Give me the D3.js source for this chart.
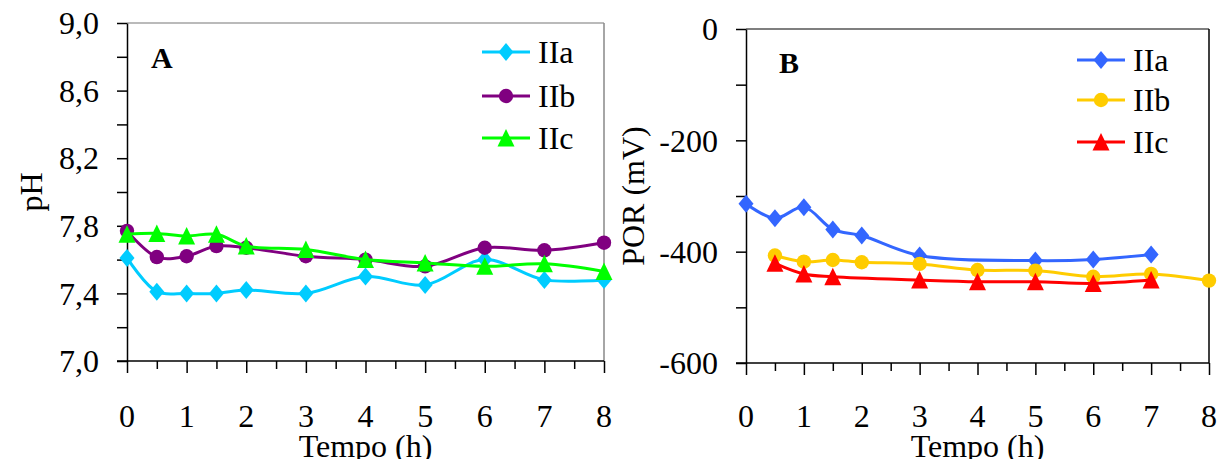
<!DOCTYPE html>
<html><head><meta charset="utf-8">
<script src="https://cdnjs.cloudflare.com/ajax/libs/d3/7.8.5/d3.min.js"></script>
<style>
html,body{margin:0;padding:0;background:#fff;}
svg{display:block;}
text{font-family:"Liberation Serif","Times New Roman","DejaVu Serif",serif;}
</style></head>
<body><svg id="c" width="1217" height="459"></svg>
<script>
// ---- data ----
const times = [0, 0.5, 1, 1.5, 2, 3, 4, 5, 6, 7, 8];
const xTickLabels = [0, 1, 2, 3, 4, 5, 6, 7, 8];
const seriesNames = ["IIa", "IIb", "IIc"];
// Panel A: pH
const phIIa = [7.61, 7.41, 7.40, 7.40, 7.42, 7.40, 7.50, 7.45, 7.60, 7.48, 7.48];
const phIIb = [7.77, 7.615, 7.62, 7.68, 7.67, 7.62, 7.60, 7.56, 7.67, 7.655, 7.70];
const phIIc = [7.75, 7.755, 7.74, 7.75, 7.68, 7.66, 7.60, 7.58, 7.56, 7.575, 7.53];
const phTicks = [7.0, 7.4, 7.8, 8.2, 8.6, 9.0];
// Panel B: POR (mV)
const porIIa = [-314, -340, -320, -360, -371, -407, null, -416, -414, -405, null];
const porIIb = [null, -407, -418, -415, -419, -422, -433, -434, -445, -440, -452];
const porIIc = [null, -421, -440, -445, null, -451, -454, -454, -457, -451, null];
const porTicks = [0, -200, -400, -600];

const FONT = '"Liberation Serif","Times New Roman","DejaVu Serif",serif';
const svg = d3.select("#c");

function txt(g) {
  return g.append("text").attr("font-family", FONT).attr("fill", "#000");
}

function panel(cfg) {
  const g = svg.append("g");
  const x = d3.scaleLinear().domain([0, 8]).range([cfg.left, cfg.right]);
  const y = d3.scaleLinear().domain(cfg.ydomain).range([cfg.bottom, cfg.top]);

  // frame: top & right
  g.append("line").attr("x1", cfg.left).attr("x2", cfg.right).attr("y1", cfg.top).attr("y2", cfg.top)
    .attr("stroke", cfg.topColor).attr("stroke-width", 1.2);
  g.append("line").attr("x1", cfg.right).attr("x2", cfg.right).attr("y1", cfg.top).attr("y2", cfg.bottom)
    .attr("stroke", cfg.rightColor).attr("stroke-width", 1.5);

  // y axis
  const yAll = d3.range(cfg.ydomain[0], cfg.ydomain[1] + cfg.minorStep / 2, cfg.minorStep);
  const ya = g.append("g").attr("transform", `translate(${cfg.left},0)`)
    .call(d3.axisLeft(y).tickValues(yAll).tickSize(10).tickSizeOuter(0).tickFormat(() => ""));
  ya.selectAll("path,line").attr("stroke", "#000").attr("stroke-width", 1.5);
  cfg.yticks.forEach(d => {
    txt(g).attr("x", cfg.left - 28).attr("y", y(d)).attr("dy", "0.35em")
      .attr("text-anchor", "end").attr("font-size", 32).text(cfg.yfmt(d));
  });

  // x axis
  const xAll = d3.range(0, 8.01, 0.5);
  const xa = g.append("g").attr("transform", `translate(0,${cfg.bottom})`)
    .call(d3.axisBottom(x).tickValues(xAll).tickSizeOuter(0).tickFormat(() => ""));
  xa.select("path").attr("stroke", "#000").attr("stroke-width", 1.5)
    .attr("d", `M${cfg.left - 10},0H${cfg.right}`);
  xa.selectAll("line").attr("stroke", "#000").attr("stroke-width", 1.5)
    .attr("y2", d => (d % 1 === 0 ? 12 : 8));
  xTickLabels.forEach(d => {
    txt(g).attr("x", x(d)).attr("y", 427)
      .attr("text-anchor", "middle").attr("font-size", 32).text(d);
  });

  // axis titles
  txt(g).attr("x", (cfg.left + cfg.right) / 2).attr("y", 457)
    .attr("text-anchor", "middle").attr("font-size", 32).text("Tempo (h)");
  txt(g).attr("transform", `translate(${cfg.ytitleX},${(cfg.top + cfg.bottom) / 2}) rotate(-90)`)
    .attr("text-anchor", "middle").attr("font-size", 32).text(cfg.ytitle);

  // panel letter
  txt(g).attr("x", cfg.letterX).attr("y", cfg.letterY)
    .attr("font-size", 30).attr("font-weight", "bold").text(cfg.letter);

  const line = d3.line().x(d => x(d[0])).y(d => y(d[1])).curve(d3.curveCatmullRom.alpha(0.5));

  function marker(sel, i, color) {
    if (i === 1) {
      sel.append("circle").attr("r", 7.2).attr("fill", color);
    } else if (i === 0) {
      sel.append("path").attr("d", "M0,-9L7.5,0L0,9L-7.5,0Z").attr("fill", color);
    } else {
      sel.append("path").attr("d", "M0,-9L8.5,8.5L-8.5,8.5Z").attr("fill", color);
    }
  }

  cfg.series.forEach((vals, i) => {
    const pts = times.map((t, k) => [t, vals[k]]).filter(p => p[1] !== null);
    const color = cfg.colors[i];
    g.append("path").datum(pts).attr("d", line).attr("fill", "none")
      .attr("stroke", color).attr("stroke-width", 3);
    pts.forEach(p => {
      const m = g.append("g").attr("transform", `translate(${x(p[0])},${y(p[1])})`);
      marker(m, i, color);
    });
    // legend
    const ly = cfg.legY[i];
    g.append("line").attr("x1", cfg.legX).attr("x2", cfg.legX + 48).attr("y1", ly).attr("y2", ly)
      .attr("stroke", color).attr("stroke-width", 3);
    const lm = g.append("g").attr("transform", `translate(${cfg.legX + 24},${ly})`);
    marker(lm, i, color);
    txt(g).attr("x", cfg.legX + 56).attr("y", ly + 11)
      .attr("font-size", 32).text(seriesNames[i]);
  });
}

panel({
  left: 127, right: 604, top: 23, bottom: 361,
  ydomain: [7.0, 9.0], minorStep: 0.2, yticks: phTicks,
  yfmt: d => d.toFixed(1).replace(".", ","),
  ytitle: "pH", ytitleX: 42, rightColor: "#888", topColor: "#777",
  letter: "A", letterX: 151, letterY: 68,
  series: [phIIa, phIIb, phIIc],
  colors: ["#00CCFF", "#800080", "#00FF00"],
  legX: 482, legY: [52, 96, 138]
});

panel({
  left: 746, right: 1209, top: 29, bottom: 363,
  ydomain: [-600, 0], minorStep: 100, yticks: porTicks,
  yfmt: d => String(d),
  ytitle: "POR (mV)", ytitleX: 644, rightColor: "#000", topColor: "#000",
  letter: "B", letterX: 779, letterY: 73,
  series: [porIIa, porIIb, porIIc],
  colors: ["#3366FF", "#FFCC00", "#FF0000"],
  legX: 1077, legY: [60, 100, 142]
});
</script></body></html>
